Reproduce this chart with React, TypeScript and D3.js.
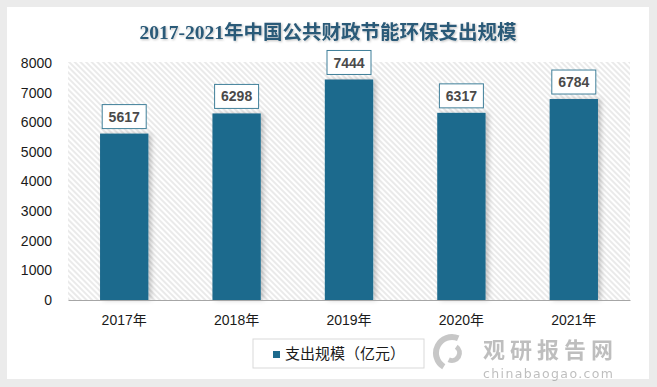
import React, { useEffect, useRef } from "react";
import * as d3 from "d3";

// chart data
const years = ["2017年", "2018年", "2019年", "2020年", "2021年"];
const spending = [5617, 6298, 7444, 6317, 6784];
const yTicks = [0, 1000, 2000, 3000, 4000, 5000, 6000, 7000, 8000];
const title = "2017-2021年中国公共财政节能环保支出规模";
const seriesName = "支出规模（亿元）";

const W = 657;
const H = 387;
const margin = { top: 63, right: 27, bottom: 87, left: 68 };
const barColor = "#1d6a8d";

export default function App() {
  const ref = useRef<SVGSVGElement>(null);

  useEffect(() => {
    const svg = d3.select(ref.current);
    svg.selectAll("*").remove();

    const defs = svg.append("defs");
    const pat = defs
      .append("pattern")
      .attr("id", "hatch")
      .attr("patternUnits", "userSpaceOnUse")
      .attr("width", 4)
      .attr("height", 4)
      .attr("patternTransform", "rotate(-45)");
    pat.append("rect").attr("width", 4).attr("height", 4).attr("fill", "#ffffff");
    pat
      .append("line")
      .attr("x1", 1)
      .attr("y1", 0)
      .attr("x2", 1)
      .attr("y2", 4)
      .attr("stroke", "#d9d9d9")
      .attr("stroke-width", 1.1);

    const shadow = defs.append("filter").attr("id", "barShadow").attr("x", "-30%").attr("width", "160%");
    shadow
      .append("feDropShadow")
      .attr("dx", 3)
      .attr("dy", 0)
      .attr("stdDeviation", 2.5)
      .attr("flood-color", "#000")
      .attr("flood-opacity", 0.22);

    const titleShadow = defs.append("filter").attr("id", "titleShadow");
    titleShadow
      .append("feDropShadow")
      .attr("dx", 1)
      .attr("dy", 1)
      .attr("stdDeviation", 1)
      .attr("flood-color", "#000")
      .attr("flood-opacity", 0.25);

    // page + card
    svg.append("rect").attr("width", W).attr("height", H).attr("fill", "#ebebeb");
    svg
      .append("rect")
      .attr("x", 7)
      .attr("y", 7)
      .attr("width", 642)
      .attr("height", 372)
      .attr("fill", "#ffffff");

    svg
      .append("text")
      .attr("x", 328)
      .attr("y", 39)
      .attr("text-anchor", "middle")
      .attr("font-family", "'Liberation Serif', 'Noto Sans CJK SC', serif")
      .attr("font-weight", "bold")
      .attr("font-size", 19.5)
      .attr("fill", "#2b5a78")
      .attr("filter", "url(#titleShadow)")
      .text(title);

    const x = d3
      .scaleBand()
      .domain(years)
      .range([margin.left, W - margin.right])
      .paddingInner(0.57)
      .paddingOuter(0.285);

    const y = d3
      .scaleLinear()
      .domain([0, 8000])
      .range([H - margin.bottom, margin.top]);

    // hatched plot background
    svg
      .append("rect")
      .attr("x", margin.left)
      .attr("y", y(8000) - 1)
      .attr("width", W - margin.right - margin.left)
      .attr("height", y(0) - y(8000) + 1)
      .attr("fill", "url(#hatch)");

    // y axis labels
    const yAxis = d3
      .axisLeft(y)
      .tickValues(yTicks)
      .tickFormat(d3.format("d"))
      .tickSize(0)
      .tickPadding(16);
    const gy = svg
      .append("g")
      .attr("transform", `translate(${margin.left},0)`)
      .call(yAxis);
    gy.select(".domain").remove();
    gy.selectAll("text")
      .attr("font-family", "'Liberation Sans', Arial, sans-serif")
      .attr("font-size", 14)
      .attr("fill", "#1a1a1a");

    // bars
    svg
      .append("g")
      .selectAll("rect")
      .data(spending)
      .join("rect")
      .attr("x", (d, i) => x(years[i])!)
      .attr("y", (d) => y(d))
      .attr("width", x.bandwidth())
      .attr("height", (d) => y(0) - y(d))
      .attr("fill", barColor)
      .attr("filter", "url(#barShadow)");

    // x axis
    const xAxis = d3.axisBottom(x).tickSize(0).tickPadding(15);
    const gx = svg
      .append("g")
      .attr("transform", `translate(0,${y(0)})`)
      .call(xAxis);
    gx.select(".domain").attr("stroke", "#a6a6a6").attr("stroke-width", 1);
    gx.selectAll("text")
      .attr("font-family", "'Liberation Sans', 'Noto Sans CJK SC', sans-serif")
      .attr("font-size", 14)
      .attr("fill", "#1a1a1a");

    // value labels
    const lab = svg
      .append("g")
      .selectAll("g")
      .data(spending)
      .join("g")
      .attr("transform", (d, i) => `translate(${x(years[i])! + x.bandwidth() / 2},${y(d) - 5})`);
    lab
      .append("rect")
      .attr("x", -22)
      .attr("y", -24)
      .attr("width", 44)
      .attr("height", 24)
      .attr("fill", "#ffffff")
      .attr("stroke", "#3f7f99")
      .attr("stroke-width", 1);
    lab
      .append("text")
      .attr("y", -12)
      .attr("dy", "0.36em")
      .attr("text-anchor", "middle")
      .attr("font-family", "'Liberation Sans', Arial, sans-serif")
      .attr("font-weight", "bold")
      .attr("font-size", 14)
      .attr("fill", "#4a4a4a")
      .text((d) => d);

    // watermark
    const wm = svg.append("g").attr("opacity", 0.55);
    wm.append("path")
      .attr("d", d3.arc()({ innerRadius: 13, outerRadius: 19, startAngle: -2.6, endAngle: 0.4 }) as string)
      .attr("transform", "translate(452,353)")
      .attr("fill", "#9a9a9a");
    wm.append("path")
      .attr("d", d3.arc()({ innerRadius: 5, outerRadius: 10, startAngle: 0.6, endAngle: 3.6 }) as string)
      .attr("transform", "translate(452,353)")
      .attr("fill", "#9a9a9a");
    wm.append("text")
      .attr("x", 483)
      .attr("y", 358)
      .attr("font-family", "'Noto Sans CJK SC', sans-serif")
      .attr("font-weight", "bold")
      .attr("font-size", 22)
      .attr("fill", "#8a8a8a")
      .attr("textLength", 130)
      .text("观研报告网");
    wm.append("text")
      .attr("x", 483)
      .attr("y", 378)
      .attr("font-family", "'DejaVu Sans', sans-serif")
      .attr("font-size", 12.5)
      .attr("fill", "#8a8a8a")
      .attr("textLength", 130)
      .text("chinabaogao.com");

    // legend
    const lg = svg.append("g").attr("transform", "translate(253,339)");
    lg.append("rect")
      .attr("width", 171)
      .attr("height", 29)
      .attr("fill", "#ffffff")
      .attr("stroke", "#d9d9d9");
    lg.append("rect").attr("x", 20).attr("y", 12).attr("width", 7).attr("height", 7).attr("fill", barColor);
    lg.append("text")
      .attr("x", 32)
      .attr("y", 15)
      .attr("dy", "0.36em")
      .attr("font-family", "'Noto Sans CJK SC', sans-serif")
      .attr("font-size", 15)
      .attr("fill", "#1a1a1a")
      .text(seriesName);
  }, []);

  return (
    <svg
      ref={ref}
      width={W}
      height={H}
      style={{ position: "absolute", left: 0, top: 0 }}
    />
  );
}
